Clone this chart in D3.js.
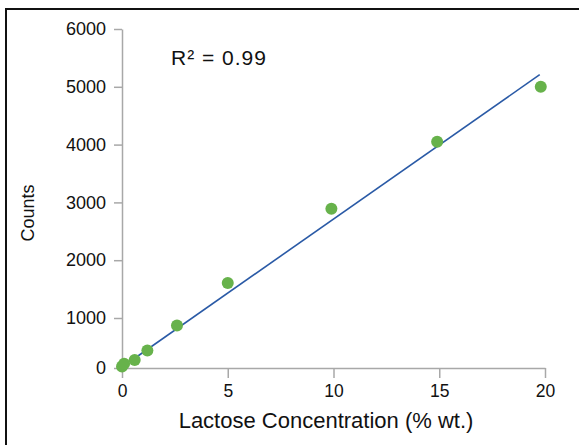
<!DOCTYPE html>
<html>
<head>
<meta charset="utf-8">
<script src="https://cdn.jsdelivr.net/npm/d3@7"></script>
<style>
  body { margin: 0; background: #fff; }
  svg { display: block; }
</style>
</head>
<body>
<div id="chart"></div>
<script>
// lactose concentration (% wt.) vs counts
const concentration = [0, 0.1, 0.6, 1.2, 2.6, 5, 9.9, 14.9, 19.8]
const counts = [30, 85, 160, 350, 850, 1605, 2890, 4050, 5000]

// ends of the fitted line
const fitX = [0.45, 19.75]
const fitY = [150, 5210]

const xTicks = [0, 5, 10, 15, 20]
const yTicks = [0, 1000, 2000, 3000, 4000, 5000, 6000]

const width = 579
const height = 445

const svg = d3.select("#chart")
    .append("svg")
    .attr("width", width)
    .attr("height", height)

// frame (runs off the right and bottom edge)
svg.append("rect")
    .attr("x", 6)
    .attr("y", 9)
    .attr("width", 600)
    .attr("height", 460)
    .attr("fill", "none")
    .attr("stroke", "#111")
    .attr("stroke-width", 2)

const x = d3.scaleLinear()
    .domain([0, 20])
    .range([122, 545])

// the original's bottom band is a bit tighter than the rest
const y = d3.scaleLinear()
    .domain([0, 1000, 6000])
    .range([368, 318, 29])

const xAxis = d3.axisBottom(x)
    .tickValues(xTicks)
    .tickFormat(d3.format("d"))
    .tickSize(10)
    .tickSizeOuter(0)
    .tickPadding(7)

const yAxis = d3.axisLeft(y)
    .tickValues(yTicks)
    .tickFormat(d3.format("d"))
    .tickSize(8)
    .tickSizeOuter(0)
    .tickPadding(8)

const gx = svg.append("g")
    .attr("transform", `translate(0,${y(0)})`)
    .call(xAxis)

const gy = svg.append("g")
    .attr("transform", `translate(${x(0)},0)`)
    .call(yAxis)

for (let g of [gx, gy]) {
    g.select(".domain").attr("stroke", "#a8a8a8").attr("stroke-width", 1.5)
    g.selectAll(".tick line").attr("stroke", "#a8a8a8").attr("stroke-width", 1.5)
    g.selectAll(".tick text")
        .attr("fill", "#111")
        .style("font-family", "'Liberation Sans', Arial, sans-serif")
}
gy.selectAll(".tick text").style("font-size", "18px")
gx.selectAll(".tick text").style("font-size", "17.5px")

// fit line
const fit = fitX.map((d, i) => [d, fitY[i]])
svg.append("path")
    .datum(fit)
    .attr("d", d3.line().x(d => x(d[0])).y(d => y(d[1])))
    .attr("fill", "none")
    .attr("stroke", "#2a5aa6")
    .attr("stroke-width", 1.6)

// measured points
svg.selectAll(".dot")
    .data(concentration)
    .enter()
    .append("circle")
    .attr("class", "dot")
    .attr("cx", d => x(d))
    .attr("cy", (d, i) => y(counts[i]))
    .attr("r", 6)
    .attr("fill", "#67b24b")

// labels
svg.append("text")
    .attr("x", 171)
    .attr("y", 65)
    .attr("fill", "#111")
    .style("font-family", "'Liberation Sans', Arial, sans-serif")
    .style("font-size", "21px")
    .style("letter-spacing", "1px")
    .text("R² = 0.99")

svg.append("text")
    .attr("x", 326)
    .attr("y", 428)
    .attr("text-anchor", "middle")
    .attr("fill", "#111")
    .style("font-family", "'Liberation Sans', Arial, sans-serif")
    .style("font-size", "22px")
    .text("Lactose Concentration (% wt.)")

svg.append("text")
    .attr("transform", "translate(34,213) rotate(-90)")
    .attr("text-anchor", "middle")
    .attr("fill", "#111")
    .style("font-family", "'Liberation Sans', Arial, sans-serif")
    .style("font-size", "18px")
    .text("Counts")
</script>
</body>
</html>
